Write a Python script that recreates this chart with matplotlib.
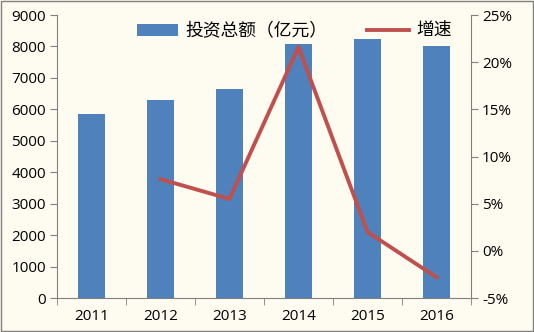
import matplotlib
matplotlib.use("Agg")
import matplotlib.pyplot as plt
import numpy as np
from matplotlib.ticker import FuncFormatter, FixedLocator

plt.rcParams['font.family'] = ['Open Sans', 'Noto Sans CJK SC', 'DejaVu Sans']

years = ['2011', '2012', '2013', '2014', '2015', '2016']
investment = [5860, 6300, 6650, 8090, 8250, 8020]
growth = [np.nan, 7.6, 5.5, 21.6, 2.0, -2.8]

bar_color = '#4F81BD'
line_color = '#C0504D'
bg = '#FEFBF1'

fig = plt.figure(figsize=(5.34, 3.32), dpi=100, facecolor=bg)
ax = fig.add_axes([0.1067, 0.1024, 0.7753, 0.8524], facecolor=bg)
x = np.arange(len(years))
bars = ax.bar(x, investment, width=0.4, color=bar_color, label='投资总额（亿元）', zorder=2)
ax.set_xlim(-0.5, len(years) - 0.5)
ax.set_ylim(0, 9000)
ax.set_yticks(np.arange(0, 9001, 1000))
ax.set_xticks(x)
ax.set_xticklabels(years)
ax.xaxis.set_minor_locator(FixedLocator(np.arange(-0.5, len(years), 1.0)))
ax.tick_params(axis='x', which='major', length=0, pad=8, labelsize=11)
ax.tick_params(axis='x', which='minor', length=5, color='#808080', direction='out')
ax.tick_params(axis='y', length=5, color='#808080', labelsize=11, pad=3)
for s in ['top', 'right']:
    ax.spines[s].set_visible(False)
for s in ['left', 'bottom']:
    ax.spines[s].set_color('#808080')

ax2 = ax.twinx()
line, = ax2.plot(x, growth, color=line_color, lw=2.8, label='增速', zorder=3)
ax2.set_ylim(-5, 25)
ax2.set_yticks(np.arange(-5, 26, 5))
ax2.yaxis.set_major_formatter(FuncFormatter(lambda v, p: f'{int(v)}%'))
ax2.tick_params(axis='y', length=5, color='#808080', labelsize=11, pad=3)
for s in ['top', 'left', 'bottom']:
    ax2.spines[s].set_visible(False)
ax2.spines['right'].set_color('#808080')

ax.legend([bars, line], ['投资总额（亿元）', '增速'], loc='upper left',
          bbox_to_anchor=(0.175, 1.0), borderaxespad=0, ncol=2, frameon=False,
          fontsize=12.8, handlelength=2.35, columnspacing=2.2, handletextpad=0.42)

fig.patches.append(plt.Rectangle((0.002, 0.003), 0.996, 0.994, transform=fig.transFigure,
                                 fill=False, edgecolor='#808080', lw=1.0))
fig.savefig('out.png', dpi=100, facecolor=bg)
